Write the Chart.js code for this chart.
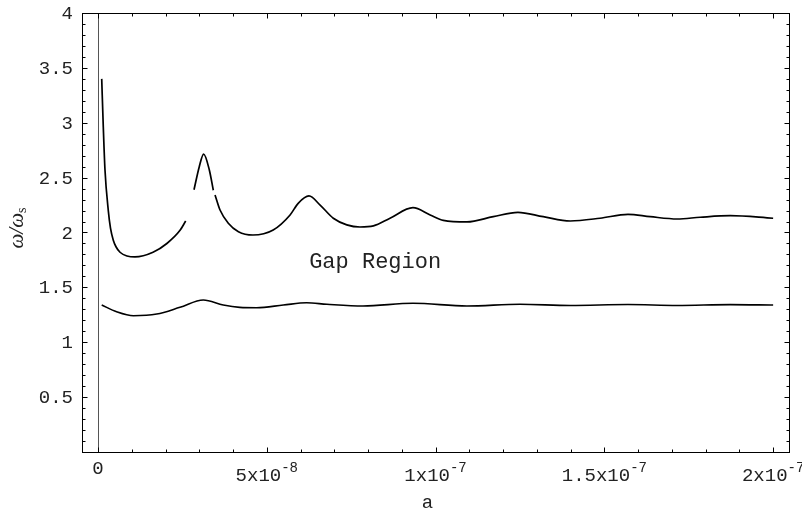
<!DOCTYPE html>
<html>
<head>
<meta charset="utf-8">
<title>Band frequencies</title>
<script src="https://cdn.jsdelivr.net/npm/chart.js@4/dist/chart.umd.min.js"></script>
<style>
  html, body { margin: 0; padding: 0; background: #fff; }
  canvas { display: block; }
</style>
</head>
<body>
<canvas id="myChart" width="802" height="514"></canvas>
<script>
// Upper branch (omega / omega_s) against a, null marks a break in the curve
const upperA = [1.10e-9, 1.57e-9, 2.07e-9, 3.05e-9, 3.7e-9, 4.53e-9, 5.33e-9, 6.52e-9, 8.6e-9, 10.96e-9,
    16.3e-9, 20.4e-9, 24.3e-9, 25.98e-9, 27.2e-9, 28.44e-9, 30.0e-9, 31.3e-9, 32.98e-9, 34.16e-9,
    34.4e-9, 34.67e-9, 36.15e-9, 38.6e-9, 41.6e-9, 45.9e-9, 51.9e-9, 56.9e-9, 59.3e-9, 62.5e-9,
    65.8e-9, 69.7e-9, 73.7e-9, 77.6e-9, 81.6e-9, 86.5e-9, 93.3e-9, 98.4e-9, 102.3e-9, 109.3e-9,
    117.1e-9, 124.4e-9, 131.9e-9, 139.9e-9, 148.7e-9, 157.0e-9, 163.6e-9, 171.6e-9, 178.4e-9, 187.3e-9,
    200e-9];
const upperW = [3.40, 2.96, 2.57, 2.20, 2.04, 1.93, 1.87, 1.82, 1.786, 1.777,
    1.82, 1.90, 2.02, 2.105, null, 2.39, 2.60, 2.715, 2.57, 2.385,
    null, 2.342, 2.205, 2.084, 2.007, 1.977, 2.023, 2.16, 2.266, 2.333,
    2.25, 2.13, 2.07, 2.05, 2.06, 2.13, 2.226, 2.16, 2.11, 2.096,
    2.144, 2.184, 2.144, 2.105, 2.13, 2.166, 2.144, 2.123, 2.139, 2.153,
    2.13];

// Lower branch
const lowerA = [1.1e-9, 5.5e-9, 10.5e-9, 17.4e-9, 24.3e-9, 31.2e-9, 37.1e-9, 42.0e-9, 47.0e-9, 54.9e-9,
    61.8e-9, 67.8e-9, 78.5e-9, 93.3e-9, 109.3e-9, 125e-9, 139.9e-9, 157e-9, 171.6e-9, 187.3e-9, 200e-9];
const lowerW = [1.339, 1.278, 1.242, 1.257, 1.318, 1.385, 1.339, 1.318, 1.315, 1.339,
    1.36, 1.346, 1.330, 1.355, 1.330, 1.346, 1.335, 1.344, 1.335, 1.343, 1.339];

// Axis ticks and labels
const xMajorTicks = [0, 5e-8, 1e-7, 1.5e-7, 2e-7];
const xTickMantissa = ['0', '5x10', '1x10', '1.5x10', '2x10'];
const xTickExponent = ['', '-8', '-7', '-7', '-7'];
const xMinorStep = 1e-8;
const yMajorTicks = [0.5, 1, 1.5, 2, 2.5, 3, 3.5, 4];
const yTickLabels = ['0.5', '1', '1.5', '2', '2.5', '3', '3.5', '4'];
const yMinorStep = 0.1;

const gapLabel = { text: 'Gap Region', a: 82.1e-9, w: 1.677 };

const MONO = '"Liberation Mono", "DejaVu Sans Mono", monospace';
const SERIF = '"Liberation Serif", "DejaVu Serif", serif';
const TEXT_COLOR = '#222';

function toPoints(xs, ys) {
    return xs.map((x, i) => ({ x: x, y: ys[i] }));
}

// zero line drawn beneath the curves
const zeroLine = {
    id: 'zeroLine',
    beforeDatasetsDraw(chart) {
        const { ctx, chartArea, scales } = chart;
        const px = Math.round(scales.x.getPixelForValue(0)) + 0.5;
        ctx.save();
        ctx.strokeStyle = '#555';
        ctx.lineWidth = 1;
        ctx.beginPath();
        ctx.moveTo(px, chartArea.top);
        ctx.lineTo(px, chartArea.bottom);
        ctx.stroke();
        ctx.restore();
    }
};

// frame with inward ticks, tick labels, axis titles and annotation
const frameAxes = {
    id: 'frameAxes',
    afterDraw(chart) {
        const { ctx, chartArea, scales } = chart;
        const x = scales.x, y = scales.y;
        const L = Math.round(chartArea.left) + 0.5;
        const R = Math.round(chartArea.right) + 0.5;
        const T = Math.round(chartArea.top) + 0.5;
        const B = Math.round(chartArea.bottom) + 0.5;
        ctx.save();
        ctx.strokeStyle = '#000';
        ctx.lineWidth = 1;
        ctx.strokeRect(L, T, R - L, B - T);

        ctx.beginPath();
        // y ticks on left and right
        for (let v = 0; v <= 4.0001; v += yMinorStep) {
            const major = Math.abs(v / 0.5 - Math.round(v / 0.5)) < 1e-6;
            const len = major ? 5 : 3;
            const py = Math.round(y.getPixelForValue(v)) + 0.5;
            ctx.moveTo(L, py); ctx.lineTo(L + len, py);
            ctx.moveTo(R, py); ctx.lineTo(R - len, py);
        }
        // x ticks on bottom and top
        for (let v = 0; v <= x.max; v += xMinorStep) {
            const major = Math.abs(v / 5e-8 - Math.round(v / 5e-8)) < 1e-6;
            const len = major ? 5 : 3;
            const px = Math.round(x.getPixelForValue(v)) + 0.5;
            ctx.moveTo(px, B); ctx.lineTo(px, B - len);
            ctx.moveTo(px, T); ctx.lineTo(px, T + len);
        }
        ctx.stroke();

        ctx.fillStyle = TEXT_COLOR;
        // y tick labels
        ctx.font = '19px ' + MONO;
        ctx.textAlign = 'right';
        ctx.textBaseline = 'middle';
        yMajorTicks.forEach((v, i) => {
            ctx.fillText(yTickLabels[i], chartArea.left - 9, y.getPixelForValue(v) + 1);
        });

        // x tick labels with superscript exponents
        ctx.textBaseline = 'alphabetic';
        ctx.textAlign = 'left';
        xMajorTicks.forEach((v, i) => {
            const cx = x.getPixelForValue(v);
            ctx.font = '19px ' + MONO;
            const mw = ctx.measureText(xTickMantissa[i]).width;
            ctx.font = '14px ' + MONO;
            const ew = xTickExponent[i] ? ctx.measureText(xTickExponent[i]).width : 0;
            const start = cx - (mw + ew) / 2;
            ctx.font = '19px ' + MONO;
            const base = xTickExponent[i] ? 481 : 474;
            ctx.fillText(xTickMantissa[i], start, base);
            if (ew) {
                ctx.font = '14px ' + MONO;
                ctx.fillText(xTickExponent[i], start + mw, base - 9);
            }
        });

        // x axis title
        ctx.font = '19px ' + MONO;
        ctx.textAlign = 'center';
        ctx.fillText('a', x.getPixelForValue(1e-7) - 8, 508);

        // y axis title: omega / omega_s
        ctx.save();
        ctx.translate(23, 228);
        ctx.rotate(-Math.PI / 2);
        ctx.font = 'italic 21px ' + SERIF;
        const main = '\u03c9/\u03c9';
        const w1 = ctx.measureText(main).width;
        ctx.font = '14px ' + SERIF;
        const w2 = ctx.measureText('s').width;
        const sx = -(w1 + w2) / 2;
        ctx.textAlign = 'left';
        ctx.font = 'italic 21px ' + SERIF;
        ctx.fillText(main, sx, 0);
        ctx.font = '14px ' + SERIF;
        ctx.fillText('s', sx + w1, 3);
        ctx.restore();

        // annotation inside the plot
        ctx.font = '22px ' + MONO;
        ctx.textAlign = 'center';
        ctx.fillText(gapLabel.text, x.getPixelForValue(gapLabel.a), y.getPixelForValue(gapLabel.w));
        ctx.restore();
    }
};

function renderChart() {
    const ctx = document.getElementById('myChart').getContext('2d');
    new Chart(ctx, {
        type: 'line',
        data: {
            datasets: [
                {
                    data: toPoints(upperA, upperW),
                    borderColor: '#000',
                    borderWidth: 1.7,
                    cubicInterpolationMode: 'monotone',
                    spanGaps: false,
                    pointRadius: 0
                },
                {
                    data: toPoints(lowerA, lowerW),
                    borderColor: '#000',
                    borderWidth: 1.6,
                    cubicInterpolationMode: 'monotone',
                    pointRadius: 0
                }
            ]
        },
        options: {
            responsive: false,
            animation: false,
            events: [],
            layout: { padding: { left: 82, right: 13, top: 13, bottom: 62 } },
            plugins: { legend: { display: false }, tooltip: { enabled: false } },
            scales: {
                x: { type: 'linear', min: -4.74e-9, max: 2.047e-7, display: false },
                y: { type: 'linear', min: 0, max: 4, display: false }
            }
        },
        plugins: [zeroLine, frameAxes]
    });
}

document.addEventListener('DOMContentLoaded', renderChart);
</script>
</body>
</html>
